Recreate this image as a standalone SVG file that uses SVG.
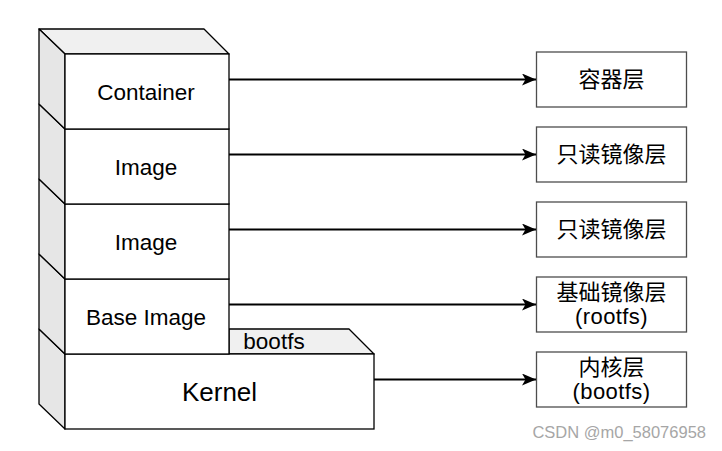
<svg xmlns="http://www.w3.org/2000/svg" width="722" height="451" viewBox="0 0 722 451">
<defs>
<style>
.face{fill:#ffffff;stroke:#000;stroke-width:1.3}
.side{fill:#e6e6e6;stroke:#000;stroke-width:1.3;stroke-linejoin:round}
.top{fill:#f0f0f0;stroke:#000;stroke-width:1.3;stroke-linejoin:round}
.lbl{font-family:"Liberation Sans",Arial,sans-serif;font-size:22.5px;fill:#000;text-anchor:middle}
.cjk{font-family:"Liberation Sans","Noto Sans CJK SC",sans-serif;font-size:22px;fill:#000;text-anchor:middle}
.box{fill:#fff;stroke:#4d4d4d;stroke-width:1.3}
.conn{stroke:#000;stroke-width:2;fill:none;marker-end:url(#arr)}
</style>
<marker id="arr" viewBox="0 0 14 12" refX="14" refY="6" markerWidth="14" markerHeight="12" markerUnits="userSpaceOnUse" orient="auto">
<path d="M0,0 L14,6 L0,12 L3.5,6 z" fill="#000"/>
</marker>
</defs>
<rect width="722" height="451" fill="#fff"/>

<g id="kernel">
<polygon class="top" points="229,329 349,329 374,354 229,354"/>
<polygon class="side" points="39,329 65,354 65,429 39,404"/>
<rect class="face" x="65" y="354" width="309" height="75"/>
<text class="lbl" x="219.5" y="401" style="font-size:26px">Kernel</text>
<text class="lbl" x="274" y="349">bootfs</text>
</g>

<g id="base-image">
<polygon class="side" points="39,254 65,279 65,354 39,329"/>
<rect class="face" x="65" y="279" width="164" height="75"/>
<text class="lbl" x="146" y="325">Base Image</text>
</g>

<g id="image2">
<polygon class="side" points="39,179 65,204 65,279 39,254"/>
<rect class="face" x="65" y="204" width="164" height="75"/>
<text class="lbl" x="146" y="250">Image</text>
</g>

<g id="image1">
<polygon class="side" points="39,104 65,129 65,204 39,179"/>
<rect class="face" x="65" y="129" width="164" height="75"/>
<text class="lbl" x="146" y="175">Image</text>
</g>

<g id="container">
<polygon class="top" points="39,29 204,29 229,54 65,54"/>
<polygon class="side" points="39,29 65,54 65,129 39,104"/>
<rect class="face" x="65" y="54" width="164" height="75"/>
<text class="lbl" x="146" y="100">Container</text>
</g>

<g id="layer-container">
<rect class="box" x="536.5" y="52" width="150" height="55"/>
<text class="cjk" x="611.5" y="87">容器层</text>
</g>
<g id="layer-ro1">
<rect class="box" x="536.5" y="127" width="150" height="55"/>
<text class="cjk" x="611.5" y="162">只读镜像层</text>
</g>
<g id="layer-ro2">
<rect class="box" x="536.5" y="202" width="150" height="55"/>
<text class="cjk" x="611.5" y="237">只读镜像层</text>
</g>
<g id="layer-base">
<rect class="box" x="536.5" y="277" width="150" height="55"/>
<text class="cjk" x="611.5" y="300">基础镜像层</text>
<text class="cjk" x="611.5" y="324" style="word-spacing:0;letter-spacing:0.4px">(rootfs)</text>
</g>
<g id="layer-kernel">
<rect class="box" x="536.5" y="352" width="150" height="55"/>
<text class="cjk" x="611.5" y="375">内核层</text>
<text class="cjk" x="611.5" y="399" style="letter-spacing:0.4px">(bootfs)</text>
</g>

<g id="connectors">
<line class="conn" x1="229" y1="79.5" x2="536" y2="79.5"/>
<line class="conn" x1="229" y1="154.5" x2="536" y2="154.5"/>
<line class="conn" x1="229" y1="229.5" x2="536" y2="229.5"/>
<line class="conn" x1="229" y1="304.5" x2="536" y2="304.5"/>
<line class="conn" x1="374" y1="379.5" x2="536" y2="379.5"/>
</g>

<text x="706" y="438" style="font-family:'Liberation Sans',Arial,sans-serif;font-size:16.5px;fill:#a6a6a6;text-anchor:end">CSDN @m0_58076958</text>
</svg>
